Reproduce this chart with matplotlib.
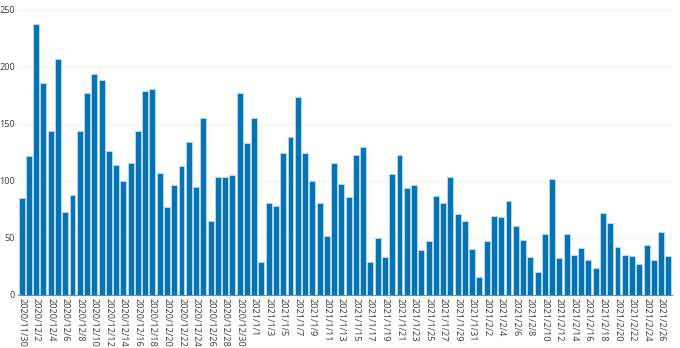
import matplotlib.pyplot as plt
import pandas as pd

# daily counts, 2020/11/30 - 2021/2/27
start_date = "2020-11-30"
counts = [
    85, 122, 237, 186, 144, 207, 73, 88, 144, 177,
    194, 188, 126, 114, 100, 116, 144, 179, 180, 107,
    77, 96, 113, 134, 95, 155, 65, 103, 103, 105,
    177, 133, 155, 29, 81, 78, 124, 138, 173, 124,
    100, 81, 52, 116, 97, 86, 123, 130, 29, 50,
    33, 106, 123, 94, 96, 39, 47, 87, 81, 103,
    71, 65, 40, 16, 47, 69, 68, 82, 60, 48,
    33, 20, 53, 102, 32, 53, 35, 41, 31, 24,
    72, 63, 42, 35, 34, 27, 44, 31, 55, 34,
]
y_ticks = [0, 50, 100, 150, 200, 250]

dates = pd.date_range(start_date, periods=len(counts), freq="D")
labels = [f"{d.year}/{d.month}/{d.day}" for d in dates]

plt.rcParams["font.family"] = ["Open Sans", "DejaVu Sans"]

fig = plt.figure(figsize=(6.8, 3.48), dpi=100)
ax = fig.add_axes([18 / 680, 1 - 295 / 348, 654 / 680, 286 / 348])

x = list(range(len(counts)))
ax.bar(x, counts, width=0.82, color="#0a72b0", edgecolor="#a9dcf7", linewidth=0.7, zorder=3)

ax.set_xlim(-0.5, len(counts) - 0.5)
ax.set_ylim(0, 250.5)
ax.set_yticks(y_ticks)
ax.set_xticks(x[::2])
ax.set_xticklabels(labels[::2], rotation=-90, va="top", ha="center")

ax.grid(axis="y", color="#f0f0f0", linewidth=0.8, zorder=0)
for side in ["top", "right", "left"]:
    ax.spines[side].set_visible(False)
ax.spines["bottom"].set_color("#888888")
ax.spines["bottom"].set_linewidth(0.8)
ax.tick_params(axis="both", length=0, labelsize=6.6, colors="#3a3a3a", pad=2)

fig.savefig("out.png", dpi=100)
